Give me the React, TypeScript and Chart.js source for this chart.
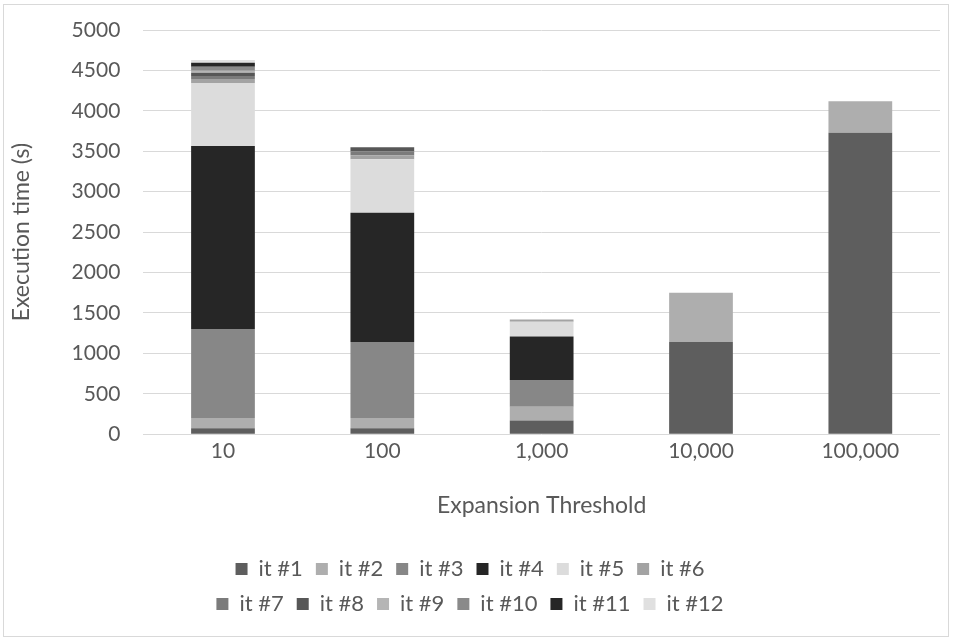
import React, { useEffect, useRef } from "react";
import { Chart, registerables } from "chart.js";

Chart.register(...registerables);

// ---- data ----
const categories = ["10", "100", "1,000", "10,000", "100,000"];
const seriesNames = [
  "it #1", "it #2", "it #3", "it #4", "it #5", "it #6",
  "it #7", "it #8", "it #9", "it #10", "it #11", "it #12",
];
const it1 = [75, 75, 170, 1140, 3730];
const it2 = [125, 125, 170, 610, 390];
const it3 = [1100, 940, 330, 0, 0];
const it4 = [2265, 1600, 540, 0, 0];
const it5 = [780, 660, 180, 0, 0];
const it6 = [50, 50, 30, 0, 0];
const it7 = [35, 50, 0, 0, 0];
const it8 = [40, 50, 0, 0, 0];
const it9 = [25, 0, 0, 0, 0];
const it10 = [50, 0, 0, 0, 0];
const it11 = [50, 0, 0, 0, 0];
const it12 = [35, 0, 0, 0, 0];
const seriesValues = [it1, it2, it3, it4, it5, it6, it7, it8, it9, it10, it11, it12];
const seriesColors = [
  "#5e5e5e", "#aeaeae", "#878787", "#262626", "#dcdcdc", "#a3a3a3",
  "#7b7b7b", "#575757", "#b5b5b5", "#8a8a8a", "#262626", "#e0e0e0",
];
const yMin = 0;
const yMax = 5000;
const yStep = 500;
const yTitle = "Execution time (s)";
const xTitle = "Expansion Threshold";

const FONT = "Lato, 'Open Sans', sans-serif";
const TEXT = "#595959";
const LEGEND_WRAP_WIDTH = 550;

// Makes the bottom legend wrap as a narrow centred block (6 items per row)
const legendWrapPlugin = {
  id: "legendWrap",
  beforeLayout(chart: any) {
    const lg = chart.legend;
    if (!lg || lg.__wrapped) return;
    const origUpdate = lg.update.bind(lg);
    lg.update = (w: number, h: number, m: any) =>
      origUpdate(Math.min(w, LEGEND_WRAP_WIDTH), h, m);
    const origDraw = lg.draw.bind(lg);
    lg.draw = (...args: any[]) => {
      const L = lg.left, R = lg.right, W = lg.width;
      const mid = (L + R) / 2;
      const w = Math.min(W, LEGEND_WRAP_WIDTH);
      lg.left = mid - w / 2;
      lg.right = mid + w / 2;
      lg.width = w;
      try {
        origDraw(...args);
      } finally {
        lg.left = L;
        lg.right = R;
        lg.width = W;
      }
    };
    lg.__wrapped = true;
  },
};

export default function App() {
  const ref = useRef<HTMLCanvasElement | null>(null);

  useEffect(() => {
    document.body.style.margin = "0";
    document.body.style.overflow = "hidden";
    const canvas = ref.current;
    if (!canvas) return;
    const chart = new Chart(canvas, {
      type: "bar",
      data: {
        labels: categories,
        datasets: seriesNames.map((name, i) => ({
          label: name,
          data: seriesValues[i],
          backgroundColor: seriesColors[i],
          borderWidth: 0,
          barPercentage: 0.4,
          categoryPercentage: 1,
        })),
      },
      options: {
        animation: false,
        responsive: false,
        maintainAspectRatio: false,
        layout: { padding: { left: 0, right: 14, top: 0, bottom: 17 } },
        plugins: {
          tooltip: { enabled: false },
          legend: {
            position: "bottom",
            labels: {
              boxWidth: 12,
              boxHeight: 12,
              padding: 13,
              color: TEXT,
              font: { family: FONT, size: 22 },
            },
          },
        },
        scales: {
          x: {
            stacked: true,
            grid: { display: false, drawTicks: false },
            border: { display: false },
            ticks: { color: TEXT, font: { family: FONT, size: 21 }, padding: 4 },
            title: {
              display: true,
              text: xTitle,
              color: TEXT,
              font: { family: FONT, size: 23 },
              padding: { top: 24, bottom: 26 },
            },
          },
          y: {
            stacked: true,
            min: yMin,
            max: yMax,
            afterFit: (s: any) => {
              s.paddingTop = 30;
            },
            grid: { color: "#d9d9d9", lineWidth: 1, drawTicks: false },
            border: { display: false },
            ticks: {
              stepSize: yStep,
              color: TEXT,
              font: { family: FONT, size: 21 },
              padding: 23,
              callback: (v: any) => String(v),
            },
            title: {
              display: true,
              text: yTitle,
              color: TEXT,
              font: { family: FONT, size: 23 },
              padding: { top: 8, bottom: 13 },
            },
          },
        },
      },
      plugins: [legendWrapPlugin],
    } as any);
    return () => chart.destroy();
  }, []);

  return (
    <div style={{ position: "relative", width: 954, height: 642 }}>
      <canvas ref={ref} width={954} height={642} style={{ display: "block" }} />
      <div
        style={{
          position: "absolute",
          left: 3,
          top: 4,
          width: 946,
          height: 633,
          border: "1px solid #d9d9d9",
          boxSizing: "border-box",
          pointerEvents: "none",
        }}
      />
    </div>
  );
}
